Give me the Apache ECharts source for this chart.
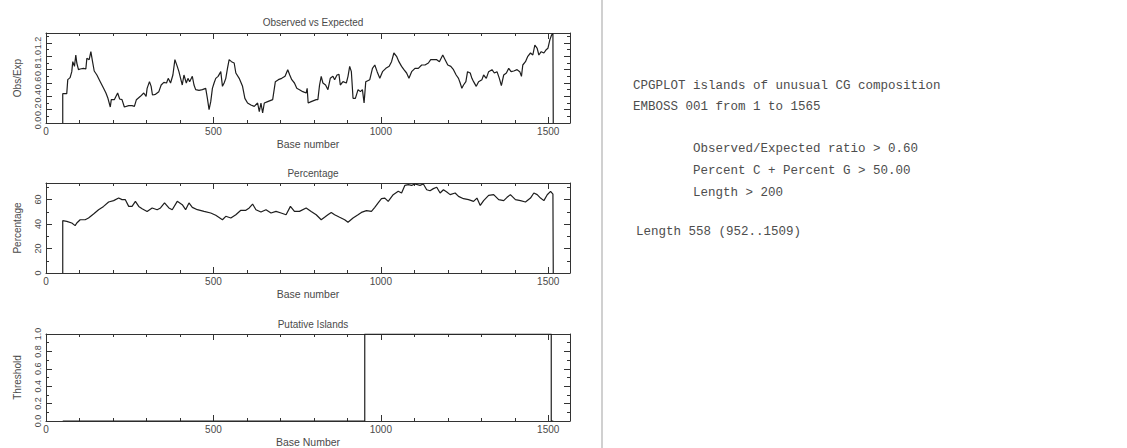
<!DOCTYPE html>
<html>
<head>
<meta charset="utf-8">
<script src="https://cdn.jsdelivr.net/npm/echarts@6/dist/echarts.min.js"></script>
<style>
html,body{margin:0;padding:0;background:#fff;}
#chart{width:1127px;height:448px;}
</style>
</head>
<body>
<div id="chart"></div>
<script>
// ---------- data ----------
const xLabelTicks = [0, 500, 1000, 1500];
const obsLabelTicks = [0, 0.2, 0.4, 0.6, 0.8, 1.0, 1.2];
const pctLabelTicks = [0, 20, 40, 60];
const islLabelTicks = [0, 0.2, 0.4, 0.6, 0.8, 1.0];

const obsBase = [50,50,62,65,72,77,80,85,89,92,97,102,112,119,122,129,134,139,144,152,162,172,179,185,192,195,204,214,220,227,234,247,257,264,270,282,292,299,302,309,314,318,327,337,344,352,360,365,372,379,385,392,397,402,407,412,419,424,429,437,442,447,457,467,477,482,487,492,497,502,507,514,522,527,532,537,542,547,554,562,567,577,587,594,602,612,622,632,637,642,647,652,662,677,685,694,704,714,722,728,734,742,749,757,767,777,780,783,792,807,812,817,822,827,835,842,849,857,862,869,875,879,887,897,902,907,912,917,924,932,939,945,950,955,967,975,982,989,997,1005,1015,1025,1032,1039,1047,1054,1062,1069,1077,1084,1092,1102,1112,1122,1132,1142,1149,1157,1167,1175,1185,1192,1200,1209,1217,1225,1232,1237,1242,1247,1254,1259,1267,1272,1277,1285,1292,1302,1307,1315,1322,1332,1339,1347,1354,1360,1367,1375,1382,1389,1397,1407,1415,1420,1424,1432,1439,1447,1454,1460,1467,1472,1479,1487,1494,1499,1505,1510,1514,1515];
const obsVal  = [0,0.44,0.44,0.65,0.68,0.77,0.92,0.85,1.02,0.90,0.80,0.81,0.82,0.81,0.97,0.95,1.07,0.92,0.78,0.72,0.62,0.52,0.45,0.37,0.24,0.35,0.35,0.45,0.36,0.35,0.24,0.26,0.26,0.25,0.35,0.40,0.45,0.40,0.52,0.62,0.55,0.42,0.43,0.47,0.57,0.61,0.60,0.67,0.60,0.72,0.95,0.85,0.77,0.67,0.57,0.72,0.60,0.67,0.62,0.70,0.57,0.50,0.49,0.50,0.52,0.37,0.20,0.32,0.52,0.60,0.67,0.70,0.77,0.55,0.60,0.67,0.82,0.95,0.92,0.90,0.75,0.67,0.55,0.37,0.30,0.27,0.25,0.30,0.17,0.30,0.15,0.30,0.32,0.35,0.62,0.65,0.67,0.70,0.80,0.72,0.65,0.60,0.52,0.50,0.47,0.45,0.52,0.30,0.32,0.35,0.35,0.57,0.70,0.60,0.57,0.50,0.67,0.70,0.65,0.72,0.73,0.57,0.62,0.60,0.70,0.85,0.77,0.37,0.37,0.50,0.47,0.50,0.30,0.62,0.65,0.82,0.87,0.77,0.67,0.77,0.82,0.85,0.92,1.05,1.00,0.92,0.85,0.80,0.75,0.67,0.77,0.82,0.82,0.87,0.87,0.90,0.95,0.95,0.95,0.92,1.02,0.95,0.87,0.85,0.80,0.72,0.67,0.60,0.52,0.57,0.62,0.77,0.75,0.67,0.62,0.55,0.62,0.65,0.72,0.67,0.77,0.80,0.75,0.77,0.67,0.56,0.72,0.75,0.82,0.77,0.78,0.80,0.77,0.70,0.87,0.92,1.00,1.05,1.02,1.17,1.12,1.02,1.07,1.05,1.10,1.12,1.25,1.32,1.34,0];

const pctBase = [50,50,62,77,87,92,102,117,127,142,157,172,187,202,217,227,237,247,257,267,277,287,302,317,332,342,354,367,377,392,407,417,427,437,452,472,492,507,527,537,552,567,582,597,607,617,627,642,657,672,687,702,717,730,742,757,777,792,807,822,832,842,852,862,877,892,902,917,932,942,957,972,982,992,1002,1012,1022,1037,1052,1062,1072,1082,1092,1102,1117,1127,1137,1147,1157,1167,1177,1187,1197,1207,1222,1232,1247,1262,1277,1287,1297,1307,1322,1337,1352,1367,1377,1387,1402,1417,1432,1447,1457,1467,1477,1487,1497,1507,1514,1515];
const pctVal  = [0,42.7,42.2,40.8,38.7,40.8,43.5,43.5,44.9,48.2,51.7,54.4,58.0,59.1,61.2,59.9,59.9,54.4,54.4,58.5,54.4,52.5,50.3,53.1,51.7,53.1,57.2,53.1,51.7,58.5,55.8,51.7,57.2,53.6,51.7,50.3,49.0,47.1,43.5,46.3,44.9,47.6,51.2,51.2,53.1,56.3,51.7,49.8,51.7,49.0,50.3,49.0,47.6,54.4,50.3,50.3,53.1,50.3,47.6,43.5,45.5,47.6,49.5,47.6,45.5,43.5,41.4,44.9,47.6,49.5,50.9,50.3,53.6,57.2,60.7,61.2,58.5,64.0,66.7,65.3,71.6,72.1,71.6,72.7,71.6,72.7,68.0,67.2,68.9,70.0,65.3,68.0,66.1,64.0,65.3,62.6,60.7,59.9,58.5,61.2,55.2,59.1,63.4,64.0,59.9,59.1,61.8,64.0,59.9,59.1,58.0,61.2,65.3,64.0,61.2,59.1,63.9,66.7,64.5,0];

const islBase = [50,952,952,1509,1509,1515];
const islVal  = [0,0,1,1,0,0];

// ---------- layout ----------
const L = 46, R = 557, W = 1127 - L - R;
const grids = [
  {left: L, top: 33, width: W, height: 90},
  {left: L, top: 183, width: W, height: 90},
  {left: L, top: 334, width: W, height: 91}
];
const FONT = 'Liberation Sans, Arial, sans-serif';
const TXT = '#4a4a4a';
const AX = '#333';

function pairs(xs, ys){ return xs.map((x,i)=>[x, ys[i]]); }

const xAxis = [], yAxis = [], series = [];
function tickAxis(kind, g, pos, max, opts){
  return Object.assign({type:'value', gridIndex:g, position:pos, min:0, max:max,
    axisLine:{show:false, onZero:false},
    axisLabel:{show:false}, splitLine:{show:false}}, opts);
}
function addPanel(g, xName, yName, ymax, yStep, yLabels, data){
  const base = xAxis.length;
  xAxis.push({type:'value', gridIndex:g, position:'bottom', min:0, max:1565, interval:100,
    axisLine:{show:true, onZero:false, lineStyle:{color:AX, width:1}},
    axisTick:{show:true, inside:true, length:3, lineStyle:{color:AX}},
    axisLabel:{show:true, customValues:xLabelTicks, margin:3, color:TXT, fontSize:10, fontFamily:FONT,
      formatter: v => String(Math.round(v))},
    splitLine:{show:false},
    name:xName, nameLocation:'middle', nameGap:15,
    nameTextStyle:{color:TXT, fontSize:10.5, fontFamily:FONT}});
  xAxis.push(tickAxis('x', g, 'bottom', 1565,
    {axisTick:{show:true, inside:true, length:6, customValues:xLabelTicks, lineStyle:{color:AX}}}));
  xAxis.push(tickAxis('x', g, 'top', 1565,
    {interval:100, axisLine:{show:true, onZero:false, lineStyle:{color:AX, width:1}},
     axisTick:{show:true, inside:true, length:3, lineStyle:{color:AX}}}));
  xAxis.push(tickAxis('x', g, 'top', 1565,
    {axisTick:{show:true, inside:true, length:6, customValues:xLabelTicks, lineStyle:{color:AX}}}));

  const yb = yAxis.length;
  yAxis.push({type:'value', gridIndex:g, position:'left', min:0, max:ymax, interval:yStep/2,
    axisLine:{show:true, onZero:false, lineStyle:{color:AX, width:1}},
    axisTick:{show:true, inside:true, length:3, lineStyle:{color:AX}},
    axisLabel:{show:true, customValues:yLabels, rotate:90, margin:4, color:TXT, fontSize:9, fontFamily:FONT,
      hideOverlap:false,
      formatter: v => yStep < 1 ? v.toFixed(1) : String(Math.round(v))},
    splitLine:{show:false},
    name:yName, nameLocation:'middle', nameGap:24, nameRotate:90,
    nameTextStyle:{color:TXT, fontSize:10, fontFamily:FONT}});
  yAxis.push(tickAxis('y', g, 'left', ymax,
    {axisTick:{show:true, inside:true, length:6, customValues:yLabels, lineStyle:{color:AX}}}));
  yAxis.push(tickAxis('y', g, 'right', ymax,
    {interval:yStep/2, axisLine:{show:true, onZero:false, lineStyle:{color:AX, width:1}},
     axisTick:{show:true, inside:true, length:3, lineStyle:{color:AX}}}));
  yAxis.push(tickAxis('y', g, 'right', ymax,
    {axisTick:{show:true, inside:true, length:6, customValues:yLabels, lineStyle:{color:AX}}}));

  series.push({type:'line', xAxisIndex:base, yAxisIndex:yb, data:data, showSymbol:false, symbol:'none',
    animation:false, clip:true, lineStyle:{color:'#1e1e1e', width:1.2}});
}

addPanel(0, 'Base number', 'Obs/Exp', 1.35, 0.2, obsLabelTicks, pairs(obsBase, obsVal));
addPanel(1, 'Base number', 'Percentage', 73.5, 20, pctLabelTicks, pairs(pctBase, pctVal));
addPanel(2, 'Base Number', 'Threshold', 1.0, 0.2, islLabelTicks, pairs(islBase, islVal));

const titleStyle = {color:TXT, fontSize:10, fontFamily:FONT, fontWeight:'normal'};
const cx = L + W/2;

const infoLines = [
  {x:633, y:86, t:'CPGPLOT islands of unusual CG composition'},
  {x:633, y:107, t:'EMBOSS 001 from 1 to 1565'},
  {x:693, y:149, t:'Observed/Expected ratio > 0.60'},
  {x:693, y:171, t:'Percent C + Percent G > 50.00'},
  {x:693, y:193, t:'Length > 200'},
  {x:636, y:232, t:'Length 558 (952..1509)'}
];

const chart = echarts.init(document.getElementById('chart'), null, {renderer:'svg'});
chart.setOption({
  animation:false,
  backgroundColor:'#fff',
  title:[
    {text:'Observed vs Expected', left:cx, top:12, textAlign:'center', textStyle:titleStyle},
    {text:'Percentage', left:cx, top:163, textAlign:'center', textStyle:titleStyle},
    {text:'Putative Islands', left:cx, top:314, textAlign:'center', textStyle:titleStyle}
  ],
  grid:grids.map(g => Object.assign({containLabel:false}, g)),
  xAxis:xAxis,
  yAxis:yAxis,
  series:series,
  graphic:[
    {type:'rect', shape:{x:601, y:0, width:2, height:448}, style:{fill:'#d0d0d0'}, silent:true}
  ].concat(infoLines.map(l => ({
    type:'text', x:l.x, y:l.y,
    style:{text:l.t, fill:'#4d4d4d', font:'12.5px "Liberation Mono", "DejaVu Sans Mono", monospace',
      textVerticalAlign:'middle', textAlign:'left'}
  })))
});
</script>
</body>
</html>
